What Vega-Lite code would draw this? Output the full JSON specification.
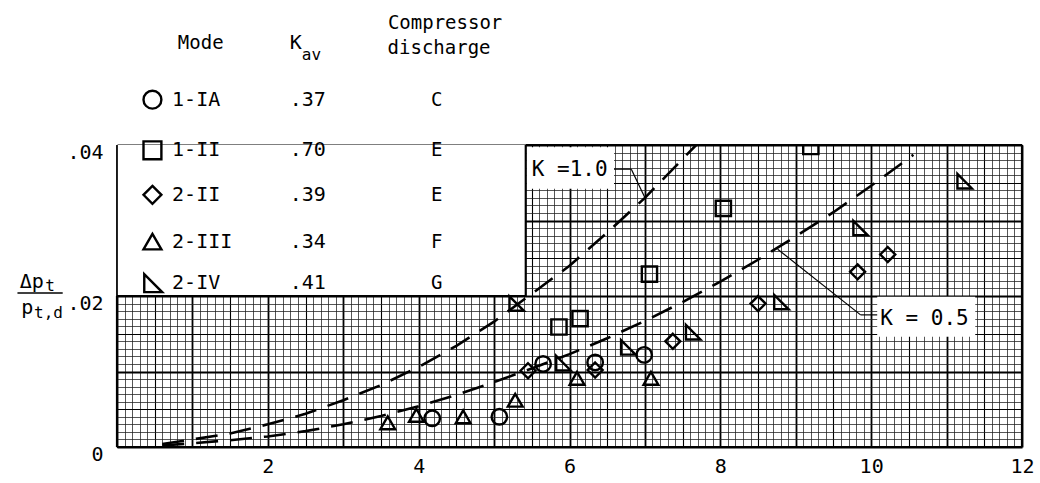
{
  "$schema": "https://vega.github.io/schema/vega-lite/v6.json",
  "width": 905,
  "height": 302,
  "autosize": "none",
  "padding": {"left": 117, "top": 145, "right": 18, "bottom": 36},
  "background": "white",
  "config": {"view": {"stroke": null}},
  "datasets": {
    "pts": [
      {"mode": "1-IA", "x": 4.18, "y": 0.0038},
      {"mode": "1-IA", "x": 5.07, "y": 0.0040},
      {"mode": "1-IA", "x": 5.65, "y": 0.0110},
      {"mode": "1-IA", "x": 6.34, "y": 0.0112},
      {"mode": "1-IA", "x": 6.99, "y": 0.0122},
      {"mode": "1-II", "x": 5.86, "y": 0.0159},
      {"mode": "1-II", "x": 6.14, "y": 0.0170},
      {"mode": "1-II", "x": 7.06, "y": 0.0229},
      {"mode": "1-II", "x": 8.04, "y": 0.0316},
      {"mode": "1-II", "x": 9.20, "y": 0.0398},
      {"mode": "2-II", "x": 5.45, "y": 0.0101},
      {"mode": "2-II", "x": 6.34, "y": 0.0102},
      {"mode": "2-II", "x": 7.37, "y": 0.0140},
      {"mode": "2-II", "x": 8.50, "y": 0.0190},
      {"mode": "2-II", "x": 9.82, "y": 0.0232},
      {"mode": "2-II", "x": 10.22, "y": 0.0255},
      {"mode": "2-III", "x": 3.59, "y": 0.0032},
      {"mode": "2-III", "x": 3.97, "y": 0.0042},
      {"mode": "2-III", "x": 4.59, "y": 0.0040},
      {"mode": "2-III", "x": 5.28, "y": 0.0062},
      {"mode": "2-III", "x": 6.10, "y": 0.0091},
      {"mode": "2-III", "x": 7.08, "y": 0.0091},
      {"mode": "2-IV", "x": 5.30, "y": 0.0190},
      {"mode": "2-IV", "x": 5.92, "y": 0.0111},
      {"mode": "2-IV", "x": 6.78, "y": 0.0132},
      {"mode": "2-IV", "x": 7.64, "y": 0.0152},
      {"mode": "2-IV", "x": 8.81, "y": 0.0192},
      {"mode": "2-IV", "x": 9.86, "y": 0.0290},
      {"mode": "2-IV", "x": 11.24, "y": 0.0352}
    ],
    "legendSym": [
      {"mode": "1-IA", "x": 0.47, "y": 0.0460},
      {"mode": "1-II", "x": 0.47, "y": 0.0393},
      {"mode": "2-II", "x": 0.47, "y": 0.0334},
      {"mode": "2-III", "x": 0.47, "y": 0.0272},
      {"mode": "2-IV", "x": 0.48, "y": 0.0217}
    ],
    "curves": [
      {"curve": "K=1.0", "x": 0.6, "y": 0.0004},
      {"curve": "K=1.0", "x": 1.0, "y": 0.0010},
      {"curve": "K=1.0", "x": 1.5, "y": 0.0018},
      {"curve": "K=1.0", "x": 2.0, "y": 0.0030},
      {"curve": "K=1.0", "x": 2.5, "y": 0.0044},
      {"curve": "K=1.0", "x": 3.0, "y": 0.0062},
      {"curve": "K=1.0", "x": 3.5, "y": 0.0082},
      {"curve": "K=1.0", "x": 4.0, "y": 0.0106},
      {"curve": "K=1.0", "x": 4.5, "y": 0.0134},
      {"curve": "K=1.0", "x": 5.0, "y": 0.0166},
      {"curve": "K=1.0", "x": 5.5, "y": 0.0203},
      {"curve": "K=1.0", "x": 6.0, "y": 0.0240},
      {"curve": "K=1.0", "x": 6.5, "y": 0.0284},
      {"curve": "K=1.0", "x": 7.0, "y": 0.0330},
      {"curve": "K=1.0", "x": 7.68, "y": 0.0400},
      {"curve": "K=0.5", "x": 0.6, "y": 0.0002},
      {"curve": "K=0.5", "x": 1.0, "y": 0.0005},
      {"curve": "K=0.5", "x": 1.5, "y": 0.0009},
      {"curve": "K=0.5", "x": 2.0, "y": 0.0014},
      {"curve": "K=0.5", "x": 2.5, "y": 0.0021},
      {"curve": "K=0.5", "x": 3.0, "y": 0.0030},
      {"curve": "K=0.5", "x": 3.5, "y": 0.0041},
      {"curve": "K=0.5", "x": 4.0, "y": 0.0054},
      {"curve": "K=0.5", "x": 4.5, "y": 0.0069},
      {"curve": "K=0.5", "x": 5.0, "y": 0.0086},
      {"curve": "K=0.5", "x": 5.5, "y": 0.0104},
      {"curve": "K=0.5", "x": 6.0, "y": 0.0123},
      {"curve": "K=0.5", "x": 6.5, "y": 0.0144},
      {"curve": "K=0.5", "x": 7.0, "y": 0.0167},
      {"curve": "K=0.5", "x": 7.5, "y": 0.0192},
      {"curve": "K=0.5", "x": 8.0, "y": 0.0219},
      {"curve": "K=0.5", "x": 8.5, "y": 0.0248},
      {"curve": "K=0.5", "x": 9.0, "y": 0.0279},
      {"curve": "K=0.5", "x": 9.5, "y": 0.0311},
      {"curve": "K=0.5", "x": 10.0, "y": 0.0346},
      {"curve": "K=0.5", "x": 10.56, "y": 0.0387}
    ],
    "segs": [
      {"kind": "heavy", "x": 0, "y": 0, "x2": 12, "y2": 0},
      {"kind": "heavy", "x": 12, "y": 0, "x2": 12, "y2": 0.04},
      {"kind": "heavy", "x": 5.42, "y": 0.04, "x2": 12, "y2": 0.04},
      {"kind": "heavy", "x": 5.42, "y": 0.02, "x2": 5.42, "y2": 0.04},
      {"kind": "heavy", "x": 0, "y": 0.02, "x2": 5.42, "y2": 0.02},
      {"kind": "heavy", "x": 0, "y": 0, "x2": 0, "y2": 0.02},
      {"kind": "thin", "x": 0, "y": 0.02, "x2": 0, "y2": 0.04},
      {"kind": "leader", "x": 6.59, "y": 0.0368, "x2": 6.82, "y2": 0.0368},
      {"kind": "leader", "x": 6.82, "y": 0.0368, "x2": 7.01, "y2": 0.0328},
      {"kind": "leader", "x": 8.76, "y": 0.0262, "x2": 9.86, "y2": 0.0175},
      {"kind": "leader", "x": 9.86, "y": 0.0175, "x2": 10.08, "y2": 0.0175}
    ],
    "whiteRects": [
      {"what": "blank", "x": 0, "x2": 5.42, "y": 0.02, "y2": 0.04},
      {"what": "box1", "x": 5.43, "x2": 6.59, "y": 0.0342, "y2": 0.0397},
      {"what": "box05", "x": 10.08, "x2": 11.38, "y": 0.0146, "y2": 0.0199}
    ],
    "textLeft": [
      {"label": "1-IA", "x": 0.73, "y": 0.0460},
      {"label": "1-II", "x": 0.73, "y": 0.0393},
      {"label": "2-II", "x": 0.73, "y": 0.0334},
      {"label": "2-III", "x": 0.73, "y": 0.0272},
      {"label": "2-IV", "x": 0.73, "y": 0.0217},
      {"label": ".37", "x": 2.29, "y": 0.0460},
      {"label": ".70", "x": 2.29, "y": 0.0393},
      {"label": ".39", "x": 2.29, "y": 0.0334},
      {"label": ".34", "x": 2.29, "y": 0.0272},
      {"label": ".41", "x": 2.29, "y": 0.0217},
      {"label": "K", "x": 2.29, "y": 0.0535},
      {"label": "Δp", "x": -1.29, "y": 0.0219},
      {"label": "p", "x": -1.27, "y": 0.0184}
    ],
    "textCenter": [
      {"label": "Mode", "x": 1.11, "y": 0.0535},
      {"label": "Compressor", "x": 4.35, "y": 0.0562},
      {"label": "discharge", "x": 4.27, "y": 0.0528},
      {"label": "C", "x": 4.24, "y": 0.0460},
      {"label": "E", "x": 4.24, "y": 0.0393},
      {"label": "E", "x": 4.24, "y": 0.0334},
      {"label": "F", "x": 4.24, "y": 0.0272},
      {"label": "G", "x": 4.24, "y": 0.0217}
    ],
    "textSub": [
      {"label": "av", "x": 2.45, "y": 0.0519},
      {"label": "t", "x": -0.95, "y": 0.0213},
      {"label": "t,d", "x": -1.1, "y": 0.0178}
    ],
    "kLabels": [
      {"label": "K =1.0", "x": 5.50, "y": 0.0367},
      {"label": "K = 0.5", "x": 10.12, "y": 0.0170}
    ],
    "bar": [
      {"x": -1.32, "x2": -0.72, "y": 0.0204}
    ]
  },
  "encoding": {
    "x": {
      "field": "x", "type": "quantitative",
      "scale": {"domain": [0, 12], "nice": false, "zero": false},
      "axis": {
        "title": null, "domain": false, "ticks": false,
        "values": [0,0.1,0.2,0.3,0.4,0.5,0.6,0.7,0.8,0.9,1,1.1,1.2,1.3,1.4,1.5,1.6,1.7,1.8,1.9,2,2.1,2.2,2.3,2.4,2.5,2.6,2.7,2.8,2.9,3,3.1,3.2,3.3,3.4,3.5,3.6,3.7,3.8,3.9,4,4.1,4.2,4.3,4.4,4.5,4.6,4.7,4.8,4.9,5,5.1,5.2,5.3,5.4,5.5,5.6,5.7,5.8,5.9,6,6.1,6.2,6.3,6.4,6.5,6.6,6.7,6.8,6.9,7,7.1,7.2,7.3,7.4,7.5,7.6,7.7,7.8,7.9,8,8.1,8.2,8.3,8.4,8.5,8.6,8.7,8.8,8.9,9,9.1,9.2,9.3,9.4,9.5,9.6,9.7,9.8,9.9,10,10.1,10.2,10.3,10.4,10.5,10.6,10.7,10.8,10.9,11,11.1,11.2,11.3,11.4,11.5,11.6,11.7,11.8,11.9,12],
        "grid": true,
        "gridColor": {"condition": {"test": "round(datum.value*10) % 5 == 0", "value": "#000000"}, "value": "#1e1e1e"},
        "gridWidth": {"condition": [{"test": "round(datum.value*10) % 10 == 0", "value": 1.8}, {"test": "round(datum.value*10) % 5 == 0", "value": 1.1}], "value": 0.75},
        "labelExpr": "(round(datum.value*10) % 20 == 0 && datum.value > 0) ? format(datum.value, 'd') : ''",
        "labelFont": "DejaVu Sans Mono", "labelFontSize": 20, "labelColor": "#000000",
        "labelPadding": 9, "labelFlush": false, "labelOverlap": false, "labelBound": false
      }
    },
    "y": {
      "field": "y", "type": "quantitative",
      "scale": {"domain": [0, 0.04], "nice": false, "zero": false},
      "axis": {
        "title": null, "domain": false, "ticks": false,
        "values": [0,0.001,0.002,0.003,0.004,0.005,0.006,0.007,0.008,0.009,0.01,0.011,0.012,0.013,0.014,0.015,0.016,0.017,0.018,0.019,0.02,0.021,0.022,0.023,0.024,0.025,0.026,0.027,0.028,0.029,0.03,0.031,0.032,0.033,0.034,0.035,0.036,0.037,0.038,0.039,0.04],
        "grid": true,
        "gridColor": {"condition": {"test": "round(datum.value*1000) % 5 == 0", "value": "#000000"}, "value": "#1e1e1e"},
        "gridWidth": {"condition": [{"test": "round(datum.value*1000) % 10 == 0", "value": 1.8}, {"test": "round(datum.value*1000) % 5 == 0", "value": 1.1}], "value": 0.75},
        "labelExpr": "datum.value == 0 ? '0' : (round(datum.value*1000) % 20 == 0 ? replace(format(datum.value, '.2f'), '0.', '.') : '')",
        "labelFont": "DejaVu Sans Mono", "labelFontSize": 20, "labelColor": "#000000",
        "labelPadding": 14, "labelOffset": 7, "labelOverlap": false, "labelFlush": false, "labelBound": false
      }
    }
  },
  "layer": [
    {
      "data": {"name": "whiteRects"},
      "mark": {"type": "rect", "fill": "white", "stroke": null},
      "encoding": {"x2": {"field": "x2"}, "y2": {"field": "y2"}}
    },
    {
      "data": {"name": "segs"},
      "mark": {"type": "rule", "color": "black"},
      "encoding": {
        "x2": {"field": "x2"}, "y2": {"field": "y2"},
        "strokeWidth": {"field": "kind", "type": "nominal", "scale": {"domain": ["heavy", "thin", "leader"], "range": [2.2, 1.2, 1.8]}, "legend": null}
      }
    },
    {
      "data": {"name": "curves"},
      "mark": {"type": "line", "color": "black", "strokeWidth": 2.6, "strokeDash": [22, 12], "clip": true},
      "encoding": {"detail": {"field": "curve", "type": "nominal"}}
    },
    {
      "data": {"name": "pts"},
      "mark": {"type": "point", "filled": false, "stroke": "black", "strokeWidth": 2.4, "opacity": 1, "clip": true},
      "encoding": {
        "shape": {"field": "mode", "type": "nominal", "scale": {"domain": ["1-IA", "1-II", "2-II", "2-III", "2-IV"], "range": ["circle", "square", "M0,-1L1,0L0,1L-1,0Z", "triangle-up", "M-1,-1L-1,1L1,1Z"]}, "legend": null},
        "size": {"field": "mode", "type": "nominal", "scale": {"domain": ["1-IA", "1-II", "2-II", "2-III", "2-IV"], "range": [240, 210, 330, 270, 200]}, "legend": null}
      }
    },
    {
      "data": {"name": "legendSym"},
      "mark": {"type": "point", "filled": false, "stroke": "black", "strokeWidth": 2.4, "opacity": 1, "size": 320},
      "encoding": {
        "shape": {"field": "mode", "type": "nominal", "legend": null}
      }
    },
    {
      "data": {"name": "textLeft"},
      "mark": {"type": "text", "align": "left", "baseline": "middle", "font": "DejaVu Sans Mono", "fontSize": 20, "color": "black"},
      "encoding": {"text": {"field": "label"}}
    },
    {
      "data": {"name": "textCenter"},
      "mark": {"type": "text", "align": "center", "baseline": "middle", "font": "DejaVu Sans Mono", "fontSize": 19, "color": "black"},
      "encoding": {"text": {"field": "label"}}
    },
    {
      "data": {"name": "textSub"},
      "mark": {"type": "text", "align": "left", "baseline": "middle", "font": "DejaVu Sans Mono", "fontSize": 16, "color": "black"},
      "encoding": {"text": {"field": "label"}}
    },
    {
      "data": {"name": "kLabels"},
      "mark": {"type": "text", "align": "left", "baseline": "middle", "font": "DejaVu Sans Mono", "fontSize": 21, "color": "black"},
      "encoding": {"text": {"field": "label"}}
    },
    {
      "data": {"name": "bar"},
      "mark": {"type": "rule", "color": "black", "strokeWidth": 1.5},
      "encoding": {"x2": {"field": "x2"}}
    }
  ]
}
